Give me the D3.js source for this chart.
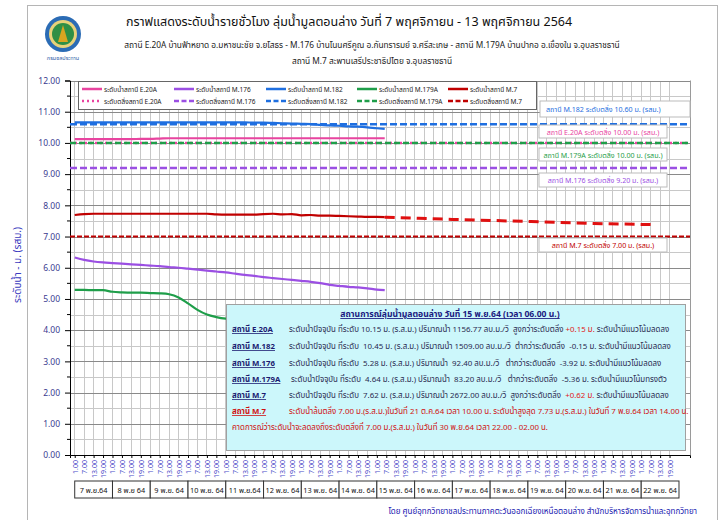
<!DOCTYPE html>
<html>
<head>
<meta charset="utf-8">
<script src="https://cdn.jsdelivr.net/npm/d3@7"></script>
<style>
  body { margin: 0; background: #fff; }
  svg text { font-family: Tahoma, "Noto Sans Thai", "Noto Sans", sans-serif; }
  .grid line { shape-rendering: crispEdges; }
</style>
</head>
<body>
<div id="chart"></div>
<script>
// hours counted from 7 Nov 01:00
var hours = [0,6,12,18,24,30,36,42,48,54,60,66,72,78,84,90,96,102,108,114,
             120,126,132,138,144,150,156,162,168,174,180,186,192,197];
var e20a  = [10.12,10.12,10.12,10.12,10.12,10.12,10.12,10.13,10.13,10.14,
             10.15,10.15,10.15,10.15,10.15,10.15,10.15,10.15,10.15,10.15,
             10.15,10.15,10.15,10.15,10.15,10.15,10.15,10.15,10.15,10.15,10.15,10.15,10.15,10.15];
var m182  = [10.66,10.66,10.66,10.66,10.66,10.66,10.66,10.66,10.66,10.66,
             10.66,10.66,10.66,10.66,10.66,10.66,10.66,10.66,10.66,10.65,
             10.65,10.64,10.63,10.62,10.61,10.60,10.58,10.56,10.55,10.53,10.52,10.50,10.47,10.45];
var m176  = [6.33,6.25,6.20,6.17,6.15,6.13,6.11,6.09,6.07,6.05,
             6.02,6.00,5.97,5.94,5.91,5.88,5.85,5.81,5.77,5.74,
             5.70,5.67,5.64,5.61,5.58,5.55,5.51,5.45,5.42,5.39,5.37,5.34,5.30,5.28];
var m179a = [5.29,5.29,5.28,5.28,5.23,5.21,5.20,5.20,5.19,5.18,
             5.15,5.05,4.86,4.65,4.50,4.42,4.37,4.35,4.36,4.38,
             4.40,4.42,4.45,4.48,4.50,4.52,4.55,4.57,4.59,4.60,4.62,4.63,4.64,4.64];
var m7    = [7.69,7.72,7.73,7.73,7.73,7.73,7.73,7.73,7.73,7.73,
             7.73,7.73,7.73,7.73,7.73,7.71,7.70,7.70,7.70,7.70,
             7.72,7.73,7.71,7.72,7.68,7.69,7.67,7.67,7.66,7.65,7.64,7.63,7.63,7.62];
var forecastHours = [197,240,290,330,368];
var m7Forecast    = [7.62,7.55,7.48,7.42,7.38];

var bankNames  = ["M.182","E.20A","M.179A","M.176","M.7"];
var bankLevels = [10.60,10.00,10.00,9.20,7.00];
var bankLabels = ["สถานี M.182 ระดับตลิ่ง  10.60 ม. (รสม.)",
                  "สถานี E.20A ระดับตลิ่ง 10.00 ม. (รสม.)",
                  "สถานี M.179A ระดับตลิ่ง 10.00 ม. (รสม.)",
                  "สถานี M.176 ระดับตลิ่ง 9.20 ม. (รสม.)",
                  "สถานี M.7 ระดับตลิ่ง  7.00 ม. (รสม.)"];

var dayLabels = ["7 พ.ย.64","8 พ.ย 64","9 พ.ย. 64","10 พ.ย. 64","11 พ.ย.64","12 พ.ย. 64",
                 "13 พ.ย. 64","14 พ.ย. 64","15 พ.ย. 64","16 พ.ย. 64","17 พ.ย. 64","18 พ.ย. 64",
                 "19 พ.ย. 64","20 พ.ย. 64","21 พ.ย. 64","22 พ.ย. 64"];
var hourLabels = ["1.00","7.00","13.00","19.00"];

var colors = {pink: "#e8449f", purple: "#9b4fe3", blue: "#1f6fe0", green: "#1f9e4a", red: "#c00000"};

var svg = d3.select("#chart").append("svg").attr("width", 722).attr("height", 520);

var x = d3.scaleLinear().domain([-3, 391]).range([70, 690]);
var y = d3.scaleLinear().domain([0, 12]).range([455, 80.5]);

// outer frame
svg.append("rect").attr("x", 27.5).attr("y", 5.5).attr("width", 690).attr("height", 530)
  .attr("fill", "none").attr("stroke", "#b5b5b5");

// logo
var logo = svg.append("g").attr("transform", "translate(63,34)");
logo.append("circle").attr("r", 18).attr("fill", "#2b6cb5");
logo.append("circle").attr("r", 14).attr("fill", "#e8d27a");
logo.append("circle").attr("r", 11).attr("fill", "#2f8f45");
logo.append("path").attr("d", "M-5,8 L0,-9 L5,8 Z").attr("fill", "#d9a520");
logo.append("text").attr("y", 26).attr("text-anchor", "middle").attr("font-size", 5.5)
  .attr("fill", "#2b5aa5").text("กรมชลประทาน");

// titles
svg.append("text").attr("x", 349).attr("y", 26).attr("text-anchor", "middle")
  .attr("font-size", 12.5).attr("fill", "#111")
  .text("กราฟแสดงระดับน้ำรายชั่วโมง ลุ่มน้ำมูลตอนล่าง วันที่ 7 พฤศจิกายน - 13 พฤศจิกายน 2564");
svg.append("text").attr("x", 372).attr("y", 48).attr("text-anchor", "middle")
  .attr("font-size", 8.3).attr("fill", "#222")
  .text("สถานี E.20A บ้านฟ้าหยาด อ.มหาชนะชัย จ.ยโสธร - M.176 บ้านโนนศรีคูณ อ.กันทรารมย์ จ.ศรีสะเกษ - สถานี M.179A บ้านปากอ อ.เขื่องใน  จ.อุบลราชธานี");
svg.append("text").attr("x", 372).attr("y", 64).attr("text-anchor", "middle")
  .attr("font-size", 8.3).attr("fill", "#222")
  .text("สถานี M.7 สะพานเสรีประชาธิปไตย จ.อุบลราชธานี");

// grid
var grid = svg.append("g").attr("class", "grid");
grid.selectAll(".vg").data(d3.range(0, 384, 6)).enter().append("line")
  .attr("x1", function(d) { return x(d); }).attr("x2", function(d) { return x(d); })
  .attr("y1", 80.5).attr("y2", 455).attr("stroke", "#c8c8c8");
grid.selectAll(".hg").data(d3.range(0.5, 12.01, 0.5)).enter().append("line")
  .attr("x1", 70).attr("x2", 690)
  .attr("y1", function(d) { return Math.round(y(d)) + 0.5; }).attr("y2", function(d) { return Math.round(y(d)) + 0.5; })
  .attr("stroke", function(d) { return d % 1 === 0 ? "#8a8a8a" : "#c8c8c8"; });
svg.append("line").attr("x1", 690.5).attr("x2", 690.5).attr("y1", 80.5).attr("y2", 455).attr("stroke", "#9a9a9a");

// axes
var yAxis = d3.axisLeft(y).tickValues(d3.range(0, 12.01, 1)).tickFormat(d3.format(".2f")).tickSize(5);
var gy = svg.append("g").attr("transform", "translate(70,0)").call(yAxis);
gy.select(".domain").attr("stroke", "#000");
gy.selectAll("text").attr("font-size", 8.5).attr("fill", "#3a3a8f").attr("x", -10);
gy.selectAll(".minor").data(d3.range(0.5, 12, 1)).enter().append("line").attr("class", "minor")
  .attr("x1", -3).attr("x2", 0).attr("y1", function(d) { return y(d); }).attr("y2", function(d) { return y(d); })
  .attr("stroke", "#000");

svg.append("text").attr("transform", "translate(21,265) rotate(-90)").attr("text-anchor", "middle")
  .attr("font-size", 10).attr("fill", "#3b3bc0").text("ระดับน้ำ - ม. (รสม.)");

var xTicks = d3.range(0, 384, 6);
var xAxis = d3.axisBottom(x).tickValues(xTicks).tickFormat("").tickSize(3);
var gx = svg.append("g").attr("transform", "translate(0,455)").call(xAxis);
gx.select(".domain").attr("stroke", "#000");
svg.append("g").selectAll("text").data(xTicks).enter().append("text")
  .attr("transform", function(d) { return "translate(" + (x(d) + 3) + ",460) rotate(-90)"; })
  .attr("text-anchor", "end").attr("font-size", 7).attr("fill", "#4a4ac8")
  .text(function(d, i) { return hourLabels[i % 4]; });

// day boxes
var days = svg.append("g");
days.selectAll("rect").data(dayLabels).enter().append("rect")
  .attr("x", function(d, i) { return x(i * 24); }).attr("y", 481)
  .attr("width", function(d, i) { return x(i * 24 + 24) - x(i * 24); }).attr("height", 17)
  .attr("fill", "#fff").attr("stroke", "#333");
days.selectAll("text").data(dayLabels).enter().append("text")
  .attr("x", function(d, i) { return x(i * 24 + 12); }).attr("y", 493)
  .attr("text-anchor", "middle").attr("font-size", 7.3).attr("fill", "#111").text(function(d) { return d; });

// bank levels
var bankStyle = [
  {c: colors.blue, dash: "7,3", w: 2.5},
  {c: colors.pink, dash: "2,3", w: 2.5},
  {c: colors.green, dash: "6,3", w: 2.5},
  {c: colors.purple, dash: "7,3", w: 2.5},
  {c: colors.red, dash: "5,2", w: 2}
];
bankLevels.forEach(function(v, i) {
  svg.append("line").attr("x1", 70).attr("x2", 690).attr("y1", y(v)).attr("y2", y(v))
    .attr("stroke", bankStyle[i].c).attr("stroke-width", bankStyle[i].w).attr("stroke-dasharray", bankStyle[i].dash);
});

// series
var line = d3.line().x(function(d) { return x(d[0]); }).y(function(d) { return y(d[1]); }).curve(d3.curveMonotoneX);
function pairs(vals) { return hours.map(function(h, i) { return [h, vals[i]]; }); }
[[m179a, colors.green], [m176, colors.purple], [m7, colors.red], [e20a, colors.pink], [m182, colors.blue]]
  .forEach(function(s) {
    svg.append("path").attr("d", line(pairs(s[0]))).attr("fill", "none")
      .attr("stroke", s[1]).attr("stroke-width", 2.2);
  });
svg.append("path").attr("d", line(forecastHours.map(function(h, i) { return [h, m7Forecast[i]]; })))
  .attr("fill", "none").attr("stroke", "#e01010").attr("stroke-width", 3).attr("stroke-dasharray", "10,6");

// bank labels
var labelBoxes = [[540, 101, 150, 16, 112], [539, 125, 128, 13, 134.5], [539, 148, 128, 13, 157.5],
                  [539, 173, 128, 14, 183], [539, 238, 128, 14, 248]];
var labelColors = [colors.blue, colors.pink, colors.green, colors.purple, colors.red];
labelBoxes.forEach(function(b, i) {
  svg.append("rect").attr("x", b[0]).attr("y", b[1]).attr("width", b[2]).attr("height", b[3])
    .attr("fill", "#fff").attr("stroke", "#bbb");
  svg.append("text").attr("x", i === 0 ? b[0] + 6 : b[0] + b[2] / 2).attr("y", b[4]).attr("font-size", 7.1)
    .attr("text-anchor", i === 0 ? "start" : "middle")
    .attr("fill", labelColors[i]).text(bankLabels[i]);
});

// legend
var legend = svg.append("g");
legend.append("rect").attr("x", 78.5).attr("y", 81.5).attr("width", 458).attr("height", 28)
  .attr("fill", "#fff").attr("stroke", "#666");
var legCols = [82, 174, 266, 357, 448];
var legNames = ["E.20A","M.176","M.182","M.179A","M.7"];
var legColors = [colors.pink, colors.purple, colors.blue, colors.green, colors.red];
legNames.forEach(function(n, i) {
  var cx = legCols[i];
  legend.append("line").attr("x1", cx).attr("x2", cx + 20).attr("y1", 89).attr("y2", 89)
    .attr("stroke", legColors[i]).attr("stroke-width", 2.5);
  legend.append("text").attr("x", cx + 22).attr("y", 91.5).attr("font-size", 6.5).attr("fill", "#222")
    .text("ระดับน้ำสถานี " + n);
  legend.append("line").attr("x1", cx).attr("x2", cx + 20).attr("y1", 101).attr("y2", 101)
    .attr("stroke", legColors[i]).attr("stroke-width", 2.5)
    .attr("stroke-dasharray", i === 0 ? "2,3" : "5,2.5");
  legend.append("text").attr("x", cx + 22).attr("y", 103.5).attr("font-size", 6.5).attr("fill", "#222")
    .text("ระดับตลิ่งสถานี " + n);
});

// info box
var info = svg.append("g");
info.append("rect").attr("x", 226.5).attr("y", 304.5).attr("width", 459).attr("height", 146)
  .attr("fill", "#ccf7fb").attr("stroke", "#a0a0a0");
info.append("text").attr("x", 450).attr("y", 317).attr("text-anchor", "middle").attr("font-size", 8.6)
  .attr("font-weight", "bold").attr("fill", "#1a1a80").attr("text-decoration", "underline")
  .text("สถานการณ์ลุ่มน้ำมูลตอนล่าง  วันที่ 15 พ.ย.64 (เวลา 06.00 น.)");

var infoStations = ["สถานี E.20A","สถานี M.182","สถานี M.176","สถานี M.179A","สถานี M.7"];
var infoText = [
  ["ระดับน้ำปัจจุบัน ที่ระดับ 10.15 ม. (ร.ส.ม.) ปริมาณน้ำ 1156.77 ลบ.ม./วิ  สูงกว่าระดับตลิ่ง ", "+0.15 ม.", " ระดับน้ำมีแนวโน้มลดลง"],
  ["ระดับน้ำปัจจุบัน ที่ระดับ  10.45 ม. (ร.ส.ม.) ปริมาณน้ำ 1509.00 ลบ.ม./วิ  ต่ำกว่าระดับตลิ่ง  -0.15 ม. ระดับน้ำมีแนวโน้มลดลง", "", ""],
  ["ระดับน้ำปัจจุบัน ที่ระดับ  5.28 ม. (ร.ส.ม.) ปริมาณน้ำ  92.40 ลบ.ม./วิ   ต่ำกว่าระดับตลิ่ง  -3.92 ม. ระดับน้ำมีแนวโน้มลดลง", "", ""],
  ["ระดับน้ำปัจจุบัน ที่ระดับ  4.64 ม. (ร.ส.ม.) ปริมาณน้ำ  83.20 ลบ.ม./วิ   ต่ำกว่าระดับตลิ่ง  -5.36 ม. ระดับน้ำมีแนวโน้มทรงตัว", "", ""],
  ["ระดับน้ำปัจจุบัน ที่ระดับ  7.62 ม. (ร.ส.ม.) ปริมาณน้ำ 2672.00 ลบ.ม./วิ  สูงกว่าระดับตลิ่ง  ", "+0.62 ม.", " ระดับน้ำมีแนวโน้มลดลง"]
];
var rowY = [332, 349, 366, 382, 398];
infoStations.forEach(function(s, i) {
  info.append("text").attr("x", 232).attr("y", rowY[i]).attr("font-size", 7.8).attr("font-weight", "bold")
    .attr("fill", "#1a1a70").attr("text-decoration", "underline").text(s);
  var t = info.append("text").attr("x", i === 3 ? 291 : 289).attr("y", rowY[i]).attr("font-size", 7.9).attr("fill", "#2a2a50")
    .attr("xml:space", "preserve");
  t.append("tspan").text(infoText[i][0]);
  if (infoText[i][1]) t.append("tspan").attr("fill", "#e02020").text(infoText[i][1]);
  if (infoText[i][2]) t.append("tspan").text(infoText[i][2]);
});
info.append("text").attr("x", 232).attr("y", 414).attr("font-size", 7.8).attr("font-weight", "bold")
  .attr("fill", "#d01010").attr("text-decoration", "underline").text("สถานี M.7");
info.append("text").attr("x", 289).attr("y", 414).attr("font-size", 7.9).attr("fill", "#d01010")
  .text("ระดับน้ำล้นตลิ่ง 7.00 ม.(ร.ส.ม.)ในวันที่ 21 ต.ค.64 เวลา 10.00 น. ระดับน้ำสูงสุด 7.73 ม.(ร.ส.ม.) ในวันที่ 7 พ.ย.64 เวลา 14.00 น.");
info.append("text").attr("x", 232).attr("y", 430).attr("font-size", 7.9).attr("fill", "#d01010")
  .text("คาดการณ์ว่าระดับน้ำจะลดลงถึงระดับตลิ่งที่ 7.00 ม.(ร.ส.ม.) ในวันที่ 30 พ.ย.64 เวลา 22.00 - 02.00 น.");

// credit
svg.append("text").attr("x", 697).attr("y", 514).attr("text-anchor", "end").attr("font-size", 8)
  .attr("fill", "#2020b0")
  .text("โดย ศูนย์อุทกวิทยาชลประทานภาคตะวันออกเฉียงเหนือตอนล่าง สำนักบริหารจัดการน้ำและอุทกวิทยา");
</script>
</body>
</html>
